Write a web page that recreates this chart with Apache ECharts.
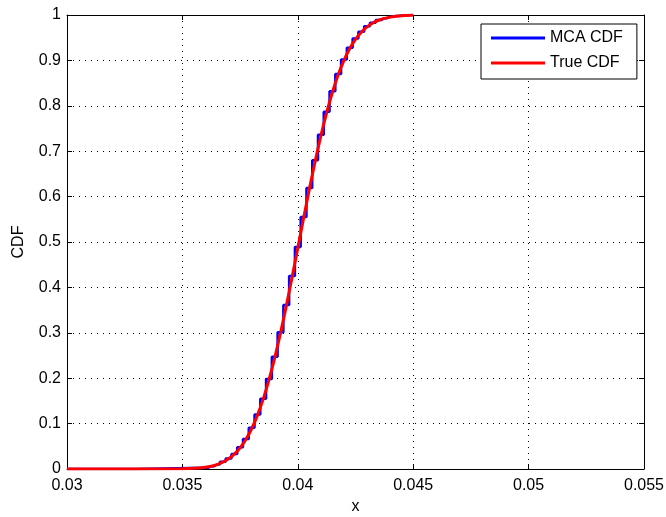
<!DOCTYPE html>
<html>
<head>
<meta charset="utf-8">
<script src="https://cdn.jsdelivr.net/npm/echarts@6/dist/echarts.min.js"></script>
<style>
  html, body { margin: 0; padding: 0; background: #fff; }
  #chart { width: 666px; height: 517px; }
</style>
</head>
<body>
<div id="chart"></div>
<script>
// Monte Carlo estimate of the CDF (histogram bin centres and cumulative fractions)
var mcaX = [0.030, 0.0360, 0.03625, 0.0365, 0.03675, 0.0370, 0.03725, 0.0375, 0.03775,
  0.0380, 0.03825, 0.0385, 0.03875, 0.0390, 0.03925, 0.0395, 0.03975, 0.0400, 0.04025,
  0.0405, 0.04075, 0.0410, 0.04125, 0.0415, 0.04175, 0.0420, 0.04225, 0.0425, 0.04275,
  0.0430, 0.04325, 0.0435, 0.04375, 0.0440, 0.04425, 0.0445, 0.04475, 0.0450];
var mcaY = [0.000, 0.003, 0.006, 0.010, 0.016, 0.023, 0.033, 0.048, 0.066,
  0.091, 0.120, 0.155, 0.198, 0.247, 0.301, 0.361, 0.425, 0.489, 0.555,
  0.619, 0.680, 0.736, 0.787, 0.832, 0.870, 0.902, 0.928, 0.948, 0.963,
  0.975, 0.983, 0.989, 0.993, 0.996, 0.998, 0.999, 1.000, 1.000];

// Reference (true) CDF sampled along x
var trueX = [0.030, 0.0350, 0.0355, 0.0360, 0.03625, 0.0365, 0.03675, 0.0370, 0.03725,
  0.0375, 0.03775, 0.0380, 0.03825, 0.0385, 0.03875, 0.0390, 0.03925, 0.0395, 0.03975,
  0.0400, 0.04025, 0.0405, 0.04075, 0.0410, 0.04125, 0.0415, 0.04175, 0.0420, 0.04225,
  0.0425, 0.04275, 0.0430, 0.04325, 0.0435, 0.04375, 0.0440, 0.04425, 0.0445, 0.04475, 0.0450];
var trueY = [0.000, 0.0004, 0.0014, 0.0039, 0.0062, 0.0098, 0.0150, 0.0224, 0.0327,
  0.0467, 0.0651, 0.0887, 0.1182, 0.1539, 0.1962, 0.2448, 0.2994, 0.3587, 0.4219,
  0.4868, 0.5524, 0.6164, 0.6775, 0.7340, 0.7850, 0.8299, 0.8683, 0.9002, 0.9261,
  0.9465, 0.9621, 0.9739, 0.9824, 0.9884, 0.9925, 0.9953, 0.9971, 0.9983, 0.9990, 1.000];

var xTickLabels = ['0.03', '0.035', '0.04', '0.045', '0.05', '0.055'];
var yTickLabels = ['0', '0.1', '0.2', '0.3', '0.4', '0.5', '0.6', '0.7', '0.8', '0.9', '1'];

var seriesNames = ['MCA CDF', 'True CDF'];

function pairs(xs, ys) {
  return xs.map(function (x, i) { return [x, ys[i]]; });
}

var FONT = 'Liberation Sans, Arial, sans-serif';
var labelStyle = { color: '#000', fontFamily: FONT, fontSize: 16 };
var gridDots = { show: true, lineStyle: { color: '#000', width: 1, type: [1, 5] } };

var chart = echarts.init(document.getElementById('chart'), null, { renderer: 'canvas' });
chart.setOption({
  animation: false,
  backgroundColor: '#fff',
  grid: { left: 67, right: 22, top: 15, bottom: 48, show: false, outerBoundsMode: 'none', containLabel: false },
  legend: {
    data: seriesNames,
    orient: 'vertical',
    left: 481,
    top: 24,
    padding: [5, 14, 7, 10],
    itemGap: 7,
    itemWidth: 54,
    itemHeight: 3,
    icon: 'rect',
    backgroundColor: '#fff',
    borderColor: '#000',
    borderWidth: 1,
    borderRadius: 0,
    textStyle: { color: '#000', fontFamily: FONT, fontSize: 16, lineHeight: 18 }
  },
  xAxis: [{
    type: 'value',
    min: 0.03, max: 0.055, interval: 0.005,
    name: 'x', nameLocation: 'middle', nameGap: 30,
    nameTextStyle: labelStyle,
    axisLine: { show: true, onZero: false, lineStyle: { color: '#000', width: 1 } },
    axisTick: { show: true, inside: true, length: 5, lineStyle: { color: '#000' } },
    axisLabel: {
      margin: 9, color: '#000', fontFamily: FONT, fontSize: 16,
      formatter: function (v) { return xTickLabels[Math.round((v - 0.03) / 0.005)]; }
    },
    splitLine: gridDots
  }, {
    type: 'value', position: 'top',
    min: 0.03, max: 0.055, interval: 0.005,
    axisLine: { show: true, onZero: false, lineStyle: { color: '#000', width: 1 } },
    axisTick: { show: true, inside: true, length: 5, lineStyle: { color: '#000' } },
    axisLabel: { show: false },
    splitLine: { show: false }
  }],
  yAxis: [{
    type: 'value',
    min: 0, max: 1, interval: 0.1,
    name: 'CDF', nameLocation: 'middle', nameGap: 40, nameRotate: 90,
    nameTextStyle: labelStyle,
    axisLine: { show: true, onZero: false, lineStyle: { color: '#000', width: 1 } },
    axisTick: { show: true, inside: true, length: 5, lineStyle: { color: '#000' } },
    axisLabel: {
      margin: 6, color: '#000', fontFamily: FONT, fontSize: 16,
      formatter: function (v) { return yTickLabels[Math.round(v * 10)]; }
    },
    splitLine: gridDots
  }, {
    type: 'value', position: 'right',
    min: 0, max: 1, interval: 0.1,
    axisLine: { show: true, onZero: false, lineStyle: { color: '#000', width: 1 } },
    axisTick: { show: true, inside: true, length: 5, lineStyle: { color: '#000' } },
    axisLabel: { show: false },
    splitLine: { show: false }
  }],
  series: [{
    name: seriesNames[0],
    type: 'line',
    step: 'middle',
    data: pairs(mcaX, mcaY),
    showSymbol: false,
    color: '#0000ff',
    lineStyle: { color: '#0000ff', width: 2.5 },
    z: 3
  }, {
    name: seriesNames[1],
    type: 'line',
    data: pairs(trueX, trueY),
    smooth: 0.2,
    showSymbol: false,
    color: '#ff0000',
    lineStyle: { color: '#ff0000', width: 3 },
    z: 4
  }]
});
</script>
</body>
</html>
